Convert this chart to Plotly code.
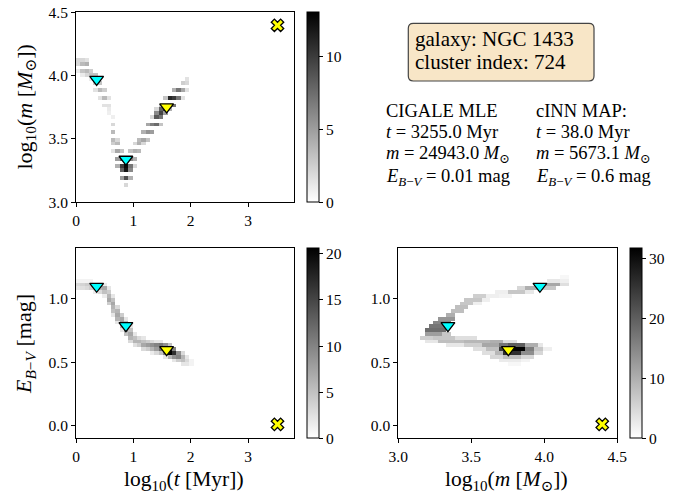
import numpy as np
import plotly.graph_objects as go

W, H = 686, 497
FONT = "Liberation Serif, Times New Roman, DejaVu Serif, serif"

# ---------------- data ----------------
# panel 1: log10(t) vs log10(m) histogram cells (x, y, count)
age_mass_cells = [
    (0.04, 4.05, 1), (0.04, 4.08, 2), (0.04, 4.11, 2), (0.04, 4.14, 1),
    (0.11, 4.02, 1), (0.11, 4.05, 3), (0.11, 4.08, 3.5), (0.11, 4.11, 2),
    (0.19, 4.02, 2), (0.19, 4.05, 3.5), (0.19, 4.08, 4), (0.19, 4.11, 1.5),
    (0.27, 3.96, 1), (0.27, 3.99, 2.5), (0.27, 4.02, 3), (0.27, 4.05, 2.5),
    (0.34, 3.90, 1.5), (0.34, 3.93, 2.5), (0.34, 3.96, 3), (0.34, 3.99, 3), (0.34, 4.02, 1.5),
    (0.42, 3.84, 1.5), (0.42, 3.87, 2.5), (0.42, 3.90, 3.5), (0.42, 3.93, 3),
    (0.49, 3.78, 1.5), (0.49, 3.81, 3), (0.49, 3.84, 3.5), (0.49, 3.87, 2.5),
    (0.57, 3.69, 0.8), (0.57, 3.72, 1), (0.57, 3.75, 1.2), (0.57, 3.78, 1.5), (0.57, 3.81, 1.5),
    (0.65, 3.42, 1.5), (0.65, 3.45, 2.5), (0.65, 3.48, 3), (0.65, 3.51, 3.5), (0.65, 3.54, 3.5),
    (0.65, 3.57, 3), (0.65, 3.60, 2), (0.65, 3.63, 1), (0.65, 3.66, 0.8),
    (0.72, 3.27, 2), (0.72, 3.30, 4), (0.72, 3.33, 5), (0.72, 3.36, 5), (0.72, 3.39, 4.5),
    (0.72, 3.42, 4), (0.72, 3.45, 3.5), (0.72, 3.48, 2), (0.72, 3.51, 1),
    (0.80, 3.18, 2), (0.80, 3.21, 5), (0.80, 3.24, 8), (0.80, 3.27, 10), (0.80, 3.30, 9.5),
    (0.80, 3.33, 8), (0.80, 3.36, 5), (0.80, 3.39, 3),
    (0.87, 3.15, 2), (0.87, 3.18, 5), (0.87, 3.21, 9), (0.87, 3.24, 12),
    (0.87, 3.27, 12.5), (0.87, 3.30, 10), (0.87, 3.33, 7), (0.87, 3.36, 3),
    (0.95, 3.18, 2), (0.95, 3.21, 4), (0.95, 3.24, 6), (0.95, 3.27, 7), (0.95, 3.30, 7),
    (0.95, 3.33, 6), (0.95, 3.36, 4.5), (0.95, 3.39, 3),
    (1.03, 3.30, 2), (1.03, 3.33, 3), (1.03, 3.36, 4), (1.03, 3.39, 4), (1.03, 3.42, 3.5),
    (1.03, 3.45, 2),
    (1.10, 3.39, 2), (1.10, 3.42, 3.5), (1.10, 3.45, 4), (1.10, 3.48, 3.5), (1.10, 3.51, 1.5),
    (1.18, 3.45, 2), (1.18, 3.48, 4), (1.18, 3.51, 4.5), (1.18, 3.54, 4), (1.18, 3.57, 1.5),
    (1.25, 3.51, 3), (1.25, 3.54, 5), (1.25, 3.57, 5.5), (1.25, 3.60, 4.5), (1.25, 3.63, 1.5),
    (1.33, 3.54, 2), (1.33, 3.57, 5), (1.33, 3.60, 6.5), (1.33, 3.63, 6), (1.33, 3.66, 2),
    (1.41, 3.60, 4), (1.41, 3.63, 7.5), (1.41, 3.66, 8.5), (1.41, 3.69, 6), (1.41, 3.72, 2),
    (1.48, 3.63, 3), (1.48, 3.66, 7), (1.48, 3.69, 9.5), (1.48, 3.72, 8), (1.48, 3.75, 3),
    (1.56, 3.69, 5), (1.56, 3.72, 10), (1.56, 3.75, 11.5), (1.56, 3.78, 9), (1.56, 3.81, 3),
    (1.63, 3.72, 4), (1.63, 3.75, 10), (1.63, 3.78, 13), (1.63, 3.81, 11), (1.63, 3.84, 4),
    (1.71, 3.78, 7), (1.71, 3.81, 10), (1.71, 3.84, 9), (1.71, 3.87, 4),
    (1.79, 3.81, 4), (1.79, 3.84, 7), (1.79, 3.87, 7), (1.79, 3.90, 3),
    (1.86, 3.84, 1.5), (1.86, 3.87, 4), (1.86, 3.90, 4.5), (1.86, 3.93, 2.5),
    (1.94, 3.90, 1.5), (1.94, 3.93, 2), (1.94, 3.96, 1.5),
]

# panel 2: log10(t) vs E(B-V) histogram cells (x, y, count)
age_ext_cells = [
    (0.04, 1.145, 1), (0.04, 1.115, 3), (0.04, 1.085, 2),
    (0.11, 1.145, 1), (0.11, 1.115, 3.5), (0.11, 1.085, 2.5),
    (0.19, 1.145, 1), (0.19, 1.115, 4), (0.19, 1.085, 3),
    (0.27, 1.145, 1), (0.27, 1.115, 4), (0.27, 1.085, 4),
    (0.34, 1.115, 4), (0.34, 1.085, 5), (0.34, 1.055, 1.5),
    (0.42, 1.115, 3), (0.42, 1.085, 6), (0.42, 1.055, 3),
    (0.49, 1.115, 1.5), (0.49, 1.085, 7), (0.49, 1.055, 5), (0.49, 1.025, 1.5),
    (0.57, 1.085, 2), (0.57, 1.055, 4), (0.57, 1.025, 6), (0.57, 0.995, 7), (0.57, 0.965, 4),
    (0.65, 1.025, 2), (0.65, 0.995, 5), (0.65, 0.965, 7), (0.65, 0.935, 6), (0.65, 0.905, 5),
    (0.65, 0.875, 2),
    (0.72, 0.935, 3), (0.72, 0.905, 6), (0.72, 0.875, 7), (0.72, 0.845, 6), (0.72, 0.815, 2),
    (0.80, 0.875, 4), (0.80, 0.845, 7), (0.80, 0.815, 8), (0.80, 0.785, 6), (0.80, 0.755, 2),
    (0.87, 0.845, 2), (0.87, 0.815, 6), (0.87, 0.785, 8), (0.87, 0.755, 8), (0.87, 0.725, 5),
    (0.95, 0.785, 2), (0.95, 0.755, 5), (0.95, 0.725, 7), (0.95, 0.695, 6), (0.95, 0.665, 3),
    (1.03, 0.725, 2), (1.03, 0.695, 5), (1.03, 0.665, 6), (1.03, 0.635, 2.5),
    (1.10, 0.695, 3), (1.10, 0.665, 6), (1.10, 0.635, 4),
    (1.18, 0.695, 2), (1.18, 0.665, 5), (1.18, 0.635, 7), (1.18, 0.605, 3),
    (1.25, 0.665, 4), (1.25, 0.635, 8), (1.25, 0.605, 4),
    (1.33, 0.665, 3), (1.33, 0.635, 9), (1.33, 0.605, 6), (1.33, 0.575, 1.5),
    (1.41, 0.665, 2), (1.41, 0.635, 10), (1.41, 0.605, 8), (1.41, 0.575, 3),
    (1.48, 0.665, 2), (1.48, 0.635, 11), (1.48, 0.605, 12), (1.48, 0.575, 5),
    (1.56, 0.635, 9), (1.56, 0.605, 15), (1.56, 0.575, 10), (1.56, 0.545, 2),
    (1.63, 0.635, 5), (1.63, 0.605, 19), (1.63, 0.575, 20.6), (1.63, 0.545, 6),
    (1.71, 0.605, 10), (1.71, 0.575, 17), (1.71, 0.545, 9), (1.71, 0.515, 2),
    (1.79, 0.575, 9), (1.79, 0.545, 10), (1.79, 0.515, 4),
    (1.86, 0.575, 3), (1.86, 0.545, 6), (1.86, 0.515, 5), (1.86, 0.485, 2),
    (1.94, 0.545, 2), (1.94, 0.515, 3), (1.94, 0.485, 2),
    (2.01, 0.515, 1), (2.01, 0.485, 1),
]

# panel 3: log10(m) vs E(B-V) histogram, horizontal runs (y, x_from, x_to, count)
mass_ext_runs = [
    (1.175, 4.10, 4.16, 1),
    (1.145, 4.02, 4.10, 3), (1.145, 4.10, 4.18, 2),
    (1.115, 3.94, 4.00, 6), (1.115, 4.00, 4.12, 11), (1.115, 4.12, 4.18, 4),
    (1.085, 3.80, 3.88, 5), (1.085, 3.88, 4.00, 10), (1.085, 4.00, 4.08, 7),
    (1.055, 3.66, 3.76, 2), (1.055, 3.76, 3.88, 7), (1.055, 3.88, 3.94, 3),
    (1.025, 3.52, 3.60, 6), (1.025, 3.60, 3.68, 2), (1.025, 3.68, 3.78, 1.5),
    (0.995, 3.46, 3.58, 7), (0.995, 3.58, 3.64, 2),
    (0.965, 3.42, 3.52, 7), (0.965, 3.52, 3.56, 2),
    (0.935, 3.38, 3.48, 8),
    (0.905, 3.36, 3.44, 8),
    (0.875, 3.32, 3.40, 10),
    (0.845, 3.28, 3.38, 13),
    (0.815, 3.24, 3.36, 15),
    (0.785, 3.20, 3.34, 17),
    (0.755, 3.19, 3.32, 18),
    (0.725, 3.17, 3.29, 12), (0.725, 3.29, 3.36, 7),
    (0.695, 3.15, 3.24, 6), (0.695, 3.24, 3.40, 7), (0.695, 3.40, 3.55, 4),
    (0.665, 3.18, 3.28, 3), (0.665, 3.28, 3.45, 8), (0.665, 3.45, 3.62, 9),
    (0.665, 3.62, 3.72, 10), (0.665, 3.72, 3.80, 4),
    (0.635, 3.34, 3.45, 3), (0.635, 3.45, 3.56, 6), (0.635, 3.56, 3.68, 11),
    (0.635, 3.68, 3.75, 17), (0.635, 3.75, 3.86, 20), (0.635, 3.86, 3.96, 10),
    (0.635, 3.96, 4.00, 3),
    (0.605, 3.50, 3.60, 4), (0.605, 3.60, 3.68, 8), (0.605, 3.68, 3.76, 24),
    (0.605, 3.76, 3.86, 31.7), (0.605, 3.86, 3.92, 16), (0.605, 3.92, 4.00, 7),
    (0.605, 4.00, 4.04, 2),
    (0.575, 3.58, 3.66, 4), (0.575, 3.66, 3.72, 9), (0.575, 3.72, 3.84, 26),
    (0.575, 3.84, 3.92, 14), (0.575, 3.92, 4.00, 5),
    (0.545, 3.62, 3.72, 5), (0.545, 3.72, 3.84, 8), (0.545, 3.84, 3.92, 5),
    (0.515, 3.68, 3.84, 2.5), (0.515, 3.84, 3.90, 1.5),
    (0.485, 3.74, 3.84, 1),
]

# point estimates
cigale_t_myr, cigale_m_msun, cigale_ebv = 3255.0, 24943.0, 0.01
cinn_t_myr, cinn_m_msun, cinn_ebv = 38.0, 5673.1, 0.6
# other posterior modes (log10 t, log10 m, E(B-V))
mode_logt = [0.36, 0.87]
mode_logm = [3.97, 3.34]
mode_ebv = [1.10, 0.79]

cbar_max = [13.0, 20.6, 31.7]
cbar_ticks = [[0, 5, 10], [0, 5, 10, 15, 20], [0, 10, 20, 30]]

# ---------------- helpers ----------------
def empty_grid(x0, x1, y0, y1, n=50):
    dx, dy = (x1 - x0) / n, (y1 - y0) / n
    xc = x0 + dx * (np.arange(n) + 0.5)
    yc = y0 + dy * (np.arange(n) + 0.5)
    return xc, yc, np.full((n, n), np.nan), dx, dy

def put(z, j, i, v):
    z[j, i] = v if np.isnan(z[j, i]) else max(z[j, i], v)

def grid_from_cells(cells, x0, x1, y0, y1, n=50):
    xc, yc, z, dx, dy = empty_grid(x0, x1, y0, y1, n)
    for x, y, v in cells:
        put(z, int((y - y0) / dy), int((x - x0) / dx), v)
    return xc, yc, z

def grid_from_runs(runs, x0, x1, y0, y1, n=50):
    xc, yc, z, dx, dy = empty_grid(x0, x1, y0, y1, n)
    for y, xa, xb, v in runs:
        j = int((y - y0) / dy)
        for i in range(int(round((xa - x0) / dx)), int(round((xb - x0) / dx))):
            put(z, j, i, v)
    return xc, yc, z

def px(x):
    return x / W

def py(y):
    return 1 - y / H

greys = [[0, "#ffffff"], [1, "#000000"]]

TICKF = dict(family=FONT, size=15.5, color="black")

# panel geometry (pixels)
panels = [
    dict(x=(76, 294), y=(12.3, 202.3), xr=(0, 3.8), yr=(3.0, 4.5), cbx=307, cbw=12),
    dict(x=(76, 294), y=(248.3, 438.3), xr=(0, 3.8), yr=(-0.1, 1.4), cbx=307, cbw=12),
    dict(x=(398.3, 617.3), y=(248.3, 438.3), xr=(3.0, 4.5), yr=(-0.1, 1.4), cbx=630, cbw=11.5),
]

grids = [
    grid_from_cells(age_mass_cells, 0, 3.8, 3.0, 4.5),
    grid_from_cells(age_ext_cells, 0, 3.8, -0.1, 1.4),
    grid_from_runs(mass_ext_runs, 3.0, 4.5, -0.1, 1.4),
]

fig = go.Figure()
for k, (p, (xc, yc, z)) in enumerate(zip(panels, grids)):
    ax = "" if k == 0 else str(k + 1)
    fig.add_trace(go.Heatmap(
        x=xc, y=yc, z=z, colorscale=greys, zmin=0, zmax=cbar_max[k],
        hoverongaps=False, hoverinfo="skip", xaxis="x" + ax, yaxis="y" + ax,
        colorbar=dict(
            x=px(p["cbx"]), xanchor="left", y=py(p["y"][1]), yanchor="bottom",
            len=(p["y"][1] - p["y"][0]) / H, lenmode="fraction",
            thickness=p["cbw"], thicknessmode="pixels", xpad=0, ypad=0,
            outlinewidth=1, outlinecolor="black", ticks="outside", ticklen=4,
            tickwidth=1, tickcolor="black", tickvals=cbar_ticks[k],
            tickfont=TICKF),
    ))

# markers for each panel
panel_pts = [
    (mode_logt, mode_logm, np.log10(cinn_t_myr), np.log10(cinn_m_msun),
     np.log10(cigale_t_myr), np.log10(cigale_m_msun)),
    (mode_logt, mode_ebv, np.log10(cinn_t_myr), cinn_ebv,
     np.log10(cigale_t_myr), cigale_ebv),
    (mode_logm, mode_ebv, np.log10(cinn_m_msun), cinn_ebv,
     np.log10(cigale_m_msun), cigale_ebv),
]
for k, (mx, my, cx, cy, gx, gy) in enumerate(panel_pts):
    ax = "" if k == 0 else str(k + 1)
    common = dict(mode="markers", showlegend=False, hoverinfo="skip",
                  xaxis="x" + ax, yaxis="y" + ax)
    fig.add_trace(go.Scatter(x=mx, y=my, marker=dict(
        symbol="triangle-down", size=12, color="#00ffff",
        line=dict(color="black", width=1.3)), **common))
    fig.add_trace(go.Scatter(x=[cx], y=[cy], marker=dict(
        symbol="triangle-down", size=12, color="#ffff00",
        line=dict(color="black", width=1.3)), **common))
    fig.add_trace(go.Scatter(x=[gx], y=[gy], marker=dict(
        symbol="x", size=11, color="#ffff00",
        line=dict(color="black", width=1.3)), **common))

axis_common = dict(showline=True, mirror=True, linecolor="black", linewidth=1,
                   ticks="outside", ticklen=4, tickwidth=1, tickcolor="black",
                   showgrid=False, zeroline=False, tickfont=TICKF, automargin=False)

xticks = [[0, 1, 2, 3], [0, 1, 2, 3], [3.0, 3.5, 4.0, 4.5]]
yticks = [[3.0, 3.5, 4.0, 4.5], [0.0, 0.5, 1.0], [0.0, 0.5, 1.0]]
xfmt = ["d", "d", ".1f"]

layout = dict(width=W, height=H, margin=dict(l=0, r=0, t=0, b=0, autoexpand=False),
              paper_bgcolor="white", plot_bgcolor="white", showlegend=False,
              font=dict(family=FONT, color="black"))
for k, p in enumerate(panels):
    ax = "" if k == 0 else str(k + 1)
    layout["xaxis" + ax] = dict(domain=[px(p["x"][0]), px(p["x"][1])], range=list(p["xr"]),
                               anchor="y" + ax, tickvals=xticks[k], tickformat=xfmt[k],
                               **axis_common)
    layout["yaxis" + ax] = dict(domain=[py(p["y"][1]), py(p["y"][0])], range=list(p["yr"]),
                               anchor="x" + ax, tickvals=yticks[k], tickformat=".1f",
                               **axis_common)
fig.update_layout(**layout)

# info box
bx0, bx1, by0, by1, r = px(408.3), px(594), py(81), py(23.3), 5
rx, ry = r / W, r / H
path = (f"M {bx0+rx},{by0} L {bx1-rx},{by0} Q {bx1},{by0} {bx1},{by0+ry} "
        f"L {bx1},{by1-ry} Q {bx1},{by1} {bx1-rx},{by1} L {bx0+rx},{by1} "
        f"Q {bx0},{by1} {bx0},{by1-ry} L {bx0},{by0+ry} Q {bx0},{by0} {bx0+rx},{by0} Z")
fig.add_shape(type="path", path=path, xref="paper", yref="paper",
              fillcolor="rgb(248,230,199)", line=dict(color="#444444", width=1.2))

def note(text, x, y, size, xanchor="left", angle=0):
    fig.add_annotation(text=text, x=px(x), y=py(y), xref="paper", yref="paper",
                       xanchor=xanchor, yanchor="middle", showarrow=False,
                       textangle=angle, align="left",
                       font=dict(family=FONT, size=size, color="black"))

note("galaxy: NGC 1433", 413, 38.6, 21)
note("cluster index: 724", 413, 61.6, 21)

left_col = ["CIGALE MLE",
            f"<i>t</i> = {cigale_t_myr:.1f} Myr",
            f"<i>m</i> = {cigale_m_msun:.1f} <i>M</i><sub>⊙</sub>",
            f"<i>E</i><sub><i>B</i>−<i>V</i></sub> = {cigale_ebv:.2f} mag"]
right_col = ["cINN MAP:",
             f"<i>t</i> = {cinn_t_myr:.1f} Myr",
             f"<i>m</i> = {cinn_m_msun:.1f} <i>M</i><sub>⊙</sub>",
             f"<i>E</i><sub><i>B</i>−<i>V</i></sub> = {cinn_ebv:.1f} mag"]
line_y = [111, 132, 154, 177]
for txt, yy in zip(left_col, line_y):
    note(txt, 384, yy, 18.5)
for txt, yy in zip(right_col, line_y):
    note(txt, 534, yy, 18.5)

# axis titles
note("log<sub>10</sub>(<i>m</i> [<i>M</i><sub>⊙</sub>])", 25, 107.5, 22, "center", -90)
note("<i>E</i><sub><i>B</i>−<i>V</i></sub> [mag]", 25, 344, 22, "center", -90)
note("log<sub>10</sub>(<i>t</i> [Myr])", 184.5, 480, 21.5, "center")
note("log<sub>10</sub>(<i>m</i> [<i>M</i><sub>⊙</sub>])", 506, 480, 21.5, "center")

fig.write_html("out.html", config={"displayModeBar": False},
               post_script="document.body.style.margin='0';document.body.style.overflow='hidden';")
